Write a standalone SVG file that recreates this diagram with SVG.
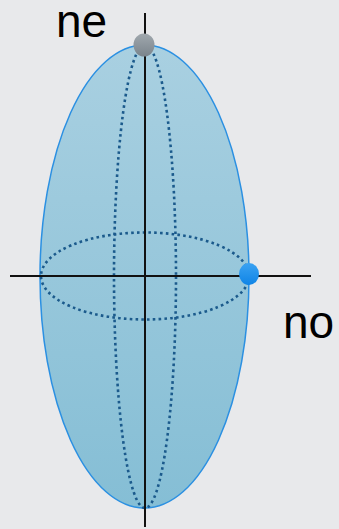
<svg xmlns="http://www.w3.org/2000/svg" width="339" height="529" viewBox="0 0 339 529">
<defs>
<linearGradient id="fillg" x1="0" y1="0" x2="0" y2="1">
<stop offset="0" stop-color="#a9d0e1"/>
<stop offset="1" stop-color="#85bed5"/>
</linearGradient>
<linearGradient id="grayg" x1="0" y1="0" x2="0" y2="1">
<stop offset="0" stop-color="#a0a8ae"/>
<stop offset="1" stop-color="#7a848c"/>
</linearGradient>
<linearGradient id="blueg" x1="0" y1="0" x2="0" y2="1">
<stop offset="0" stop-color="#3aa2f2"/>
<stop offset="1" stop-color="#0f84e6"/>
</linearGradient>
<style>
.dot{fill:none;stroke:#1b5a8c;stroke-width:2.6;stroke-dasharray:2.6 3.2}
.axis{stroke:#111;stroke-width:2}
.lbl{font-family:"Liberation Sans",Arial,sans-serif;font-size:46px;fill:#000}
</style>
</defs>
<rect width="339" height="529" fill="#e8e9eb"/>
<g id="body">
<ellipse cx="144.5" cy="276.5" rx="104.5" ry="231.5" fill="url(#fillg)" stroke="#2b90e2" stroke-width="1.5"/>
</g>
<g id="connectors">
<ellipse class="dot" cx="145" cy="276" rx="104" ry="43.5"/>
<ellipse class="dot" cx="145" cy="276.5" rx="31" ry="231.5"/>
<line class="axis" x1="10" y1="276" x2="311" y2="276"/>
<line class="axis" x1="145" y1="13" x2="145" y2="527"/>
</g>
<g id="ne">
<ellipse cx="144" cy="45" rx="10.5" ry="11.5" fill="url(#grayg)"/>
<text class="lbl" x="56" y="37">ne</text>
</g>
<g id="no">
<ellipse cx="249" cy="274" rx="10" ry="11" fill="url(#blueg)"/>
<text class="lbl" x="283" y="338">no</text>
</g>
</svg>
